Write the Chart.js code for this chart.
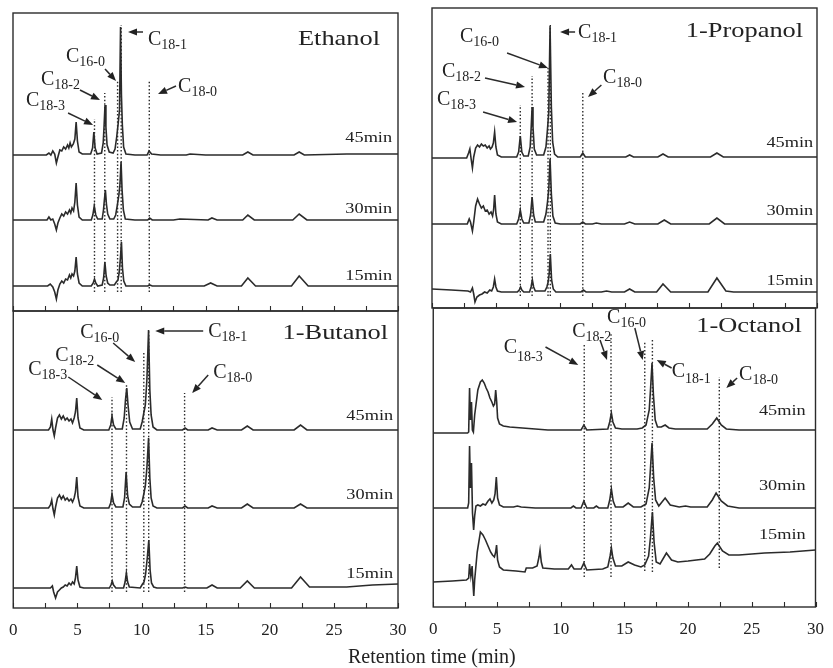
<!DOCTYPE html>
<html>
<head>
<meta charset="utf-8">
<title>Retention time chromatograms</title>
<script src="https://cdn.jsdelivr.net/npm/chart.js@4.4.1/dist/chart.umd.min.js"></script>
<style>
  html, body { margin: 0; padding: 0; background: #fff; }
  #fig { position: relative; width: 833px; height: 668px; overflow: hidden; background: #fff; }
  #fig canvas { position: absolute; }
  #xtitle { position: absolute; left: 348px; top: 646px; font: 20px "Liberation Serif", serif;
            line-height: 20px; color: #222; white-space: nowrap; }
</style>
</head>
<body>
<div id="fig">
  <canvas id="pEth"  width="420" height="320" style="left:0;top:0"></canvas>
  <canvas id="pProp" width="413" height="320" style="left:420px;top:0"></canvas>
  <canvas id="pBut"  width="420" height="368" style="left:0;top:300px"></canvas>
  <canvas id="pOct"  width="413" height="368" style="left:420px;top:300px"></canvas>
  <div id="xtitle">Retention time (min)</div>
</div>
<script>
// ---- axis ----
const timeTicks = [0, 5, 10, 15, 20, 25, 30];
const sampleTimes = ['45min', '30min', '15min'];

// ---- detector signal, [retention time (min), signal] ----
// Ethanol
const ethanol45 = [[0,0],[2.6,0],[2.8,2],[2.95,0],[3.1,4],[3.25,1],[3.38,-8],[3.5,-2],[3.65,5],[3.8,4],[3.95,8],[4.1,6],[4.25,10],[4.35,7],[4.45,12],[4.55,8],[4.7,11],[4.82,16],[4.92,33],[5.02,14],[5.15,3],[5.4,1],[6.05,1],[6.2,7],[6.3,23],[6.4,7],[6.55,1],[6.9,2],[7.03,12],[7.1,30],[7.17,50],[7.24,28],[7.33,10],[7.5,3],[7.8,2],[7.95,6],[8.08,18],[8.2,32],[8.3,45],[8.38,128],[8.45,60],[8.52,30],[8.62,8],[8.8,1],[9.5,0],[10.45,0],[10.6,4],[10.8,1],[11.5,0],[13.5,0],[13.8,1],[15,0],[17.9,0],[18.3,3],[18.7,0],[21.9,0],[22.3,3],[22.7,0],[26,1],[30,1]];
const ethanol30 = [[0,0],[2.65,0],[2.8,3],[2.95,0],[3.1,1],[3.25,-4],[3.38,-10],[3.5,-3],[3.65,2],[3.8,6],[3.95,4],[4.1,8],[4.25,6],[4.4,10],[4.5,7],[4.6,12],[4.72,9],[4.82,18],[4.92,37],[5.02,15],[5.15,3],[5.4,0],[6.1,0],[6.22,5],[6.33,14],[6.45,5],[6.6,1],[6.95,1],[7.05,10],[7.12,20],[7.2,30],[7.28,16],[7.38,6],[7.55,1],[7.85,1],[8.0,5],[8.12,14],[8.25,25],[8.33,35],[8.42,58],[8.5,30],[8.6,10],[8.75,1],[9.5,0],[10.5,0],[10.65,2],[10.85,0],[12.5,0],[13,1],[15.2,0],[15.5,2],[15.9,0],[17.9,0],[18.3,5],[18.8,0],[21.8,0],[22.3,6],[22.9,0],[30,0]];
const ethanol15 = [[0,0],[2.7,0],[2.9,2],[3.1,-1],[3.25,-6],[3.38,-13],[3.5,-4],[3.65,2],[3.8,5],[3.95,3],[4.1,7],[4.25,6],[4.4,11],[4.5,8],[4.6,12],[4.72,10],[4.82,15],[4.92,29],[5.02,12],[5.15,3],[5.4,0],[6.1,0],[6.25,3],[6.35,7],[6.45,3],[6.6,0],[6.95,1],[7.06,8],[7.16,24],[7.26,10],[7.38,3],[7.55,1],[7.9,1],[8.05,4],[8.18,6],[8.28,14],[8.38,30],[8.45,44],[8.53,18],[8.63,5],[8.8,0],[10.5,0],[10.65,1],[10.85,0],[14.9,0],[15.4,3],[15.9,0],[17.8,0],[18.3,8],[18.9,0],[21.7,0],[22.3,10],[23.0,0],[30,0]];
const ethanolOffsets = [156, 91, 25];
const ethanolPeakTimes = [6.35, 7.15, 8.15, 8.43, 10.62];
const ethanolPeakTops = [192, 218, 231, 286, 230];

// 1-Propanol
const propanol45 = [[0,-1],[2.7,-1],[2.85,4],[2.95,8],[3.05,-2],[3.15,-11],[3.25,0],[3.4,9],[3.55,12],[3.7,10],[3.85,13],[4.0,11],[4.15,12],[4.3,9],[4.45,11],[4.55,8],[4.68,10],[4.78,14],[4.88,25],[4.98,10],[5.1,2],[5.4,0],[6.6,0],[6.75,5],[6.88,21],[7.0,5],[7.15,1],[7.5,1],[7.65,10],[7.73,30],[7.8,50],[7.87,30],[7.97,8],[8.15,2],[8.7,2],[8.88,10],[9.0,28],[9.1,45],[9.2,131],[9.3,50],[9.4,15],[9.55,3],[9.8,0],[11.55,0],[11.75,4],[11.95,0],[15.1,0],[15.4,2],[15.7,0],[17.6,0],[18.0,3],[18.4,0],[21.7,0],[22.2,4],[22.7,0],[30,0]];
const propanol30 = [[0,0],[2.75,0],[2.9,5],[3.0,2],[3.15,-7],[3.25,2],[3.4,18],[3.55,25],[3.7,20],[3.85,16],[4.0,18],[4.15,13],[4.3,14],[4.45,10],[4.6,12],[4.72,8],[4.8,14],[4.88,29],[4.98,10],[5.1,2],[5.4,0],[6.6,0],[6.75,5],[6.88,14],[7.0,5],[7.15,1],[7.55,1],[7.68,9],[7.8,27],[7.92,9],[8.05,2],[8.7,2],[8.88,10],[9.0,22],[9.1,35],[9.2,65],[9.3,30],[9.42,8],[9.6,1],[10,0],[11.55,0],[11.75,2],[11.95,0],[12.5,0],[12.8,1],[13.2,0],[15.0,0],[15.4,2],[15.8,0],[17.6,0],[18.1,4],[18.6,0],[21.6,0],[22.2,6],[22.8,0],[30,0]];
const propanol15 = [[0,3],[1.5,2],[2.8,1],[3.0,0],[3.15,4],[3.25,-2],[3.35,-10],[3.5,-5],[3.7,-3],[3.9,-2],[4.1,0],[4.3,-1],[4.5,2],[4.65,1],[4.78,5],[4.88,13],[4.98,5],[5.1,1],[5.4,0],[6.65,0],[6.8,2],[6.9,5],[7.0,2],[7.15,0],[7.6,0],[7.72,5],[7.82,12],[7.92,5],[8.05,1],[8.8,1],[8.95,5],[9.05,10],[9.13,18],[9.22,38],[9.32,12],[9.45,3],[9.65,0],[10.5,0],[11.6,0],[11.8,2],[12.0,0],[13.2,0],[13.6,1],[14.0,0],[15.0,0],[15.4,3],[15.8,0],[17.5,0],[18.0,8],[18.6,0],[21.5,0],[22.2,14],[22.9,1],[23.5,0],[30,0]];
const propanolOffsets = [151, 84, 16];
const propanolPeakTimes = [6.88, 7.8, 9.04, 9.22, 11.75];
const propanolPeakTops = [203, 232, 240, 283, 215];

// 1-Butanol
const butanol45 = [[0,0],[2.75,0],[2.9,3],[3.0,11],[3.1,0],[3.2,-6],[3.3,2],[3.45,12],[3.6,15],[3.75,11],[3.9,14],[4.05,10],[4.2,12],[4.35,9],[4.5,11],[4.62,7],[4.75,12],[4.85,18],[4.95,32],[5.05,12],[5.2,2],[5.5,0],[7.45,0],[7.6,5],[7.7,14],[7.82,5],[8.0,1],[8.5,1],[8.65,12],[8.75,30],[8.85,42],[8.95,25],[9.08,8],[9.3,1],[9.9,1],[10.05,8],[10.18,17],[10.3,25],[10.42,50],[10.55,100],[10.65,40],[10.75,15],[10.9,3],[11.2,0],[13.2,0],[13.4,2],[13.6,0],[15.2,0],[15.5,2],[15.9,0],[17.8,0],[18.25,4],[18.7,0],[21.9,0],[22.4,5],[22.9,0],[30,0]];
const butanol30 = [[0,0],[2.75,0],[2.9,3],[3.0,8],[3.1,-1],[3.2,-7],[3.3,1],[3.45,10],[3.6,13],[3.75,9],[3.9,12],[4.05,8],[4.2,10],[4.35,7],[4.5,9],[4.62,6],[4.75,10],[4.85,16],[4.95,31],[5.05,11],[5.2,2],[5.5,0],[7.45,0],[7.6,5],[7.7,14],[7.82,5],[8.0,1],[8.55,1],[8.68,10],[8.8,36],[8.92,12],[9.05,4],[9.3,1],[9.9,1],[10.05,6],[10.18,14],[10.3,22],[10.42,40],[10.55,70],[10.65,30],[10.75,10],[10.9,2],[11.2,0],[13.2,0],[13.4,2],[13.6,0],[15.2,0],[15.5,2],[15.9,0],[17.8,0],[18.25,4],[18.7,0],[21.9,0],[22.4,4],[22.9,0],[30,0]];
const butanol15 = [[0,0],[2.9,0],[3.05,2],[3.15,-4],[3.3,-10],[3.45,-4],[3.6,-2],[3.75,0],[3.9,1],[4.05,3],[4.2,2],[4.35,5],[4.5,3],[4.62,6],[4.75,4],[4.85,10],[4.95,22],[5.05,8],[5.2,1],[5.5,0],[7.5,0],[7.62,3],[7.72,7],[7.82,3],[8.0,0],[8.6,0],[8.72,6],[8.82,15],[8.92,6],[9.05,1],[9.9,0],[10.08,4],[10.2,6],[10.32,14],[10.45,30],[10.57,48],[10.67,18],[10.78,5],[10.95,1],[11.2,0],[13.2,0],[13.4,1],[13.6,0],[15.1,0],[15.5,3],[15.9,0],[17.7,0],[18.25,7],[18.8,0],[21.7,0],[22.4,11],[23.1,1],[26,1],[28,3],[30,4]];
const butanolOffsets = [178, 100, 20];
const butanolPeakTimes = [7.7, 8.83, 10.18, 10.56, 13.36];
const butanolPeakTops = [211, 223, 255, 278, 215];

// 1-Octanol
const octanol45 = [[0,-3],[2.7,-3],[2.78,-2],[2.85,42],[2.92,10],[3.0,28],[3.07,0],[3.15,-2],[3.25,15],[3.35,25],[3.5,40],[3.7,48],[3.85,50],[4.0,47],[4.15,42],[4.3,38],[4.45,32],[4.6,28],[4.72,24],[4.82,26],[4.9,40],[4.98,28],[5.05,12],[5.2,6],[5.5,4],[6.0,3],[7,2],[8,1],[9,0],[11.6,0],[11.82,5],[12.05,0],[13.7,1],[13.85,8],[13.98,17],[14.1,8],[14.3,2],[14.8,1],[16.0,1],[16.4,2],[16.7,5],[16.95,20],[17.05,40],[17.17,67],[17.28,35],[17.42,10],[17.6,3],[17.9,3],[18.2,5],[18.5,2],[19,1],[21.5,1],[21.9,6],[22.25,12],[22.6,5],[23.0,1],[24,0],[30,0]];
const octanol30 = [[0,0],[2.7,0],[2.78,5],[2.85,62],[2.92,20],[3.0,45],[3.08,-5],[3.17,-22],[3.25,-8],[3.35,2],[3.5,3],[3.7,2],[3.9,4],[4.1,3],[4.3,7],[4.45,9],[4.6,5],[4.75,8],[4.85,14],[4.95,31],[5.05,10],[5.2,3],[5.5,1],[6.3,1],[6.6,2],[6.9,1],[8,0],[10.8,0],[11.0,2],[11.2,0],[11.6,0],[11.82,7],[12.05,0],[12.6,0],[12.8,2],[13.0,0],[13.7,0],[13.85,8],[13.98,19],[14.12,7],[14.3,1],[14.9,1],[15.3,5],[15.7,1],[16.3,1],[16.7,4],[16.95,20],[17.05,40],[17.17,65],[17.3,30],[17.45,8],[17.7,2],[18.2,10],[18.6,3],[19.3,1],[19.8,2],[20.2,1],[21.5,1],[21.9,8],[22.2,15],[22.6,7],[23.1,2],[24,0],[30,0]];
const octanol15 = [[0,0],[1.5,1],[2.6,2],[2.78,4],[2.85,18],[2.95,6],[3.05,16],[3.12,-2],[3.18,-14],[3.25,2],[3.45,30],[3.7,50],[3.9,47],[4.1,42],[4.3,36],[4.5,30],[4.65,27],[4.8,25],[4.9,30],[4.97,37],[5.05,22],[5.2,15],[5.5,12],[6.5,11],[7.2,10],[7.3,14],[7.8,14],[8.15,16],[8.3,25],[8.38,32],[8.48,20],[8.6,14],[9.5,13],[10.6,13],[10.85,17],[11.05,13],[11.6,13],[11.82,19],[12.05,12],[13.3,13],[13.7,15],[13.88,26],[13.98,34],[14.1,24],[14.3,16],[14.8,16],[15.3,20],[15.8,17],[16.3,15],[16.6,17],[16.9,26],[17.05,45],[17.2,70],[17.33,40],[17.5,20],[17.8,18],[18.3,29],[18.7,22],[19.2,20],[20,21],[21.3,23],[21.7,28],[22.1,36],[22.3,39],[22.7,31],[23.2,27],[24,27],[26,29],[28,30],[30,32]];
const octanolOffsets = [177, 99, 25];
const octanolPeakTimes = [11.85, 13.95, 16.6, 17.2, 22.45];
const octanolPeakTops = [262, 274, 265, 269, 230];
const octanolPeakFoots = [30, 30, 36, 35, 39];

// ---- annotation layout (data coordinates: minutes, signal) ----
const ethanolNotes = {
  name: [28.6, 266], times: [29.54, [169, 98, 31]],
  peaks: [
    { sub: '18-1', at: [10.52, 266], arrow: [[10.13, 279], [8.96, 279]] },
    { sub: '16-0', at: [4.13, 249], arrow: [[7.17, 242], [8.03, 230]] },
    { sub: '18-2', at: [2.18, 226], arrow: [[5.22, 221], [6.78, 211]] },
    { sub: '18-3', at: [1.01, 205], arrow: [[4.29, 198], [6.24, 186]] },
    { sub: '18-0', at: [12.86, 219], arrow: [[12.7, 225], [11.3, 217]] }
  ]
};
const propanolNotes = {
  name: [28.92, 271], times: [29.7, [161, 93, 23]],
  peaks: [
    { sub: '18-1', at: [11.38, 270], arrow: [[11.15, 276], [9.98, 276]] },
    { sub: '16-0', at: [2.18, 266], arrow: [[5.85, 255], [9.04, 240]] },
    { sub: '18-2', at: [0.78, 231], arrow: [[4.13, 230], [7.25, 221]] },
    { sub: '18-3', at: [0.39, 203], arrow: [[3.98, 196], [6.63, 186]] },
    { sub: '18-0', at: [13.33, 225], arrow: [[13.2, 223], [12.16, 211]] }
  ]
};
const butanolNotes = {
  name: [29.23, 269], times: [29.62, [188, 109, 30]],
  peaks: [
    { sub: '18-1', at: [15.2, 271], arrow: [[14.81, 277], [11.07, 277]] },
    { sub: '16-0', at: [5.22, 270], arrow: [[7.79, 265], [9.51, 246]] },
    { sub: '18-2', at: [3.27, 247], arrow: [[6.55, 243], [8.73, 225]] },
    { sub: '18-3', at: [1.17, 233], arrow: [[4.29, 231], [6.94, 208]] },
    { sub: '18-0', at: [15.59, 230], arrow: [[15.2, 233], [13.95, 215]] }
  ]
};
const octanolNotes = {
  name: [28.92, 275], times: [29.23, [192, 117, 68]],
  peaks: [
    { sub: '18-3', at: [5.53, 254], drop: 8, arrow: [[8.81, 260], [11.38, 242]] },
    { sub: '18-2', at: [10.91, 270], arrow: [[13.09, 267], [13.64, 247]] },
    { sub: '16-0', at: [13.64, 284], arrow: [[15.82, 279], [16.44, 247]] },
    { sub: '18-1', at: [18.71, 230], drop: 6, arrow: [[18.71, 239], [17.54, 247]] },
    { sub: '18-0', at: [24.0, 227], arrow: [[23.85, 229], [23.0, 219]] }
  ]
};

const INK = '#2b2b2b';
const SERIF = '"Liberation Serif", "Times New Roman", serif';

function stretchedText(ctx, text, x, y, size, sx, align) {
  ctx.save();
  ctx.translate(x, y);
  ctx.scale(sx, 1);
  ctx.font = size + 'px ' + SERIF;
  ctx.textAlign = align;
  ctx.textBaseline = 'alphabetic';
  ctx.fillText(text, 0, 0);
  ctx.restore();
}

function drawArrow(ctx, x1, y1, x2, y2) {
  const ang = Math.atan2(y2 - y1, x2 - x1);
  const L = 9, W = 3.6;
  const bx = x2 - L * Math.cos(ang), by = y2 - L * Math.sin(ang);
  ctx.beginPath(); ctx.moveTo(x1, y1); ctx.lineTo(bx, by); ctx.stroke();
  ctx.beginPath();
  ctx.moveTo(x2, y2);
  ctx.lineTo(bx + W * Math.sin(ang), by - W * Math.cos(ang));
  ctx.lineTo(bx - W * Math.sin(ang), by + W * Math.cos(ang));
  ctx.closePath(); ctx.fill();
}

// frame, inward ticks, panel title, run-time tags and peak labels
const panelDecor = {
  id: 'panelDecor',
  afterDatasetsDraw(chart, args, o) {
    const { ctx, chartArea: a, scales: { x, y } } = chart;
    const px = (t) => x.getPixelForValue(t);
    const py = (v) => y.getPixelForValue(v);
    ctx.save();
    ctx.strokeStyle = INK; ctx.fillStyle = INK;
    // ticks pointing into the panel
    ctx.lineWidth = 1.1;
    x.ticks.forEach(tk => {
      const xx = Math.round(px(tk.value)) + 0.5;
      ctx.beginPath(); ctx.moveTo(xx, a.bottom); ctx.lineTo(xx, a.bottom - 5); ctx.stroke();
    });
    // frame
    ctx.lineWidth = 1.4;
    ctx.strokeRect(a.left, a.top, a.right - a.left, a.bottom - a.top);
    const n = o.notes;
    ctx.fillStyle = '#222';
    stretchedText(ctx, o.title, px(n.name[0]), py(n.name[1]), 22, 1.2, 'right');
    sampleTimes.forEach((s, i) => {
      stretchedText(ctx, s, px(n.times[0]), py(n.times[1][i]), 15, 1.22, 'right');
    });
    // peak labels with pointer arrows
    n.peaks.forEach(p => {
      const lx = px(p.at[0]), ly = py(p.at[1]);
      ctx.font = '20px ' + SERIF;
      ctx.textAlign = 'left'; ctx.textBaseline = 'alphabetic';
      ctx.fillText('C', lx, ly);
      const w = ctx.measureText('C').width;
      ctx.font = '14px ' + SERIF;
      ctx.fillText(p.sub, lx + w, ly + (p.drop || 4));
      ctx.lineWidth = 1.5;
      drawArrow(ctx, px(p.arrow[0][0]), py(p.arrow[0][1]), px(p.arrow[1][0]), py(p.arrow[1][1]));
    });
    ctx.restore();
  }
};

function makePanel(p) {
  const datasets = [];
  p.peakTimes.forEach((t, i) => {
    const foot = Array.isArray(p.foot) ? p.foot[i] : p.foot;
    datasets.push({
      data: [{ x: t, y: foot }, { x: t, y: p.peakTops[i] }],
      borderColor: INK, borderWidth: 1.4, borderDash: [1.5, 2.1], pointRadius: 0
    });
  });
  p.traces.forEach((tr, i) => {
    datasets.push({
      data: tr.map(d => ({ x: d[0], y: d[1] + p.offsets[i] })),
      borderColor: INK, borderWidth: 1.6, pointRadius: 0, tension: 0
    });
  });
  return new Chart(document.getElementById(p.canvas), {
    type: 'line',
    data: { datasets },
    options: {
      responsive: false,
      animation: false,
      events: [],
      layout: { padding: p.padding },
      plugins: {
        legend: { display: false },
        tooltip: { enabled: false },
        panelDecor: { title: p.title, notes: p.notes }
      },
      scales: {
        x: {
          type: 'linear', min: 0, max: 30,
          grid: { display: false, drawTicks: false },
          border: { display: false },
          ticks: {
            display: p.axisLabels, stepSize: 2.5, autoSkip: false, maxRotation: 0,
            padding: 9, color: '#222', font: { family: SERIF, size: 17, lineHeight: 1.55 },
            callback: v => timeTicks.includes(v) ? String(v) : ''
          },
          afterFit: s => { s.height = p.axisLabels ? 40 : 0; }
        },
        y: { display: false, min: 0, max: p.yMax }
      }
    },
    plugins: [panelDecor]
  });
}

makePanel({ canvas: 'pEth', title: 'Ethanol', traces: [ethanol45, ethanol30, ethanol15], offsets: ethanolOffsets,
  peakTimes: ethanolPeakTimes, peakTops: ethanolPeakTops, foot: 19, notes: ethanolNotes, yMax: 298,
  axisLabels: false, padding: { left: 13, top: 13, right: 22, bottom: 9 } });
makePanel({ canvas: 'pProp', title: '1-Propanol', traces: [propanol45, propanol30, propanol15], offsets: propanolOffsets,
  peakTimes: propanolPeakTimes, peakTops: propanolPeakTops, foot: 12, notes: propanolNotes, yMax: 300,
  axisLabels: false, padding: { left: 12, top: 8, right: 16, bottom: 12 } });
makePanel({ canvas: 'pBut', title: '1-Butanol', traces: [butanol45, butanol30, butanol15], offsets: butanolOffsets,
  peakTimes: butanolPeakTimes, peakTops: butanolPeakTops, foot: 16, notes: butanolNotes, yMax: 297,
  axisLabels: true, padding: { left: 13, top: 11, right: 22, bottom: 20 } });
makePanel({ canvas: 'pOct', title: '1-Octanol', traces: [octanol45, octanol30, octanol15], offsets: octanolOffsets,
  peakTimes: octanolPeakTimes, peakTops: octanolPeakTops, foot: octanolPeakFoots, notes: octanolNotes, yMax: 299,
  axisLabels: true, padding: { left: 12, top: 8, right: 16, bottom: 21 } });
</script>
</body>
</html>
